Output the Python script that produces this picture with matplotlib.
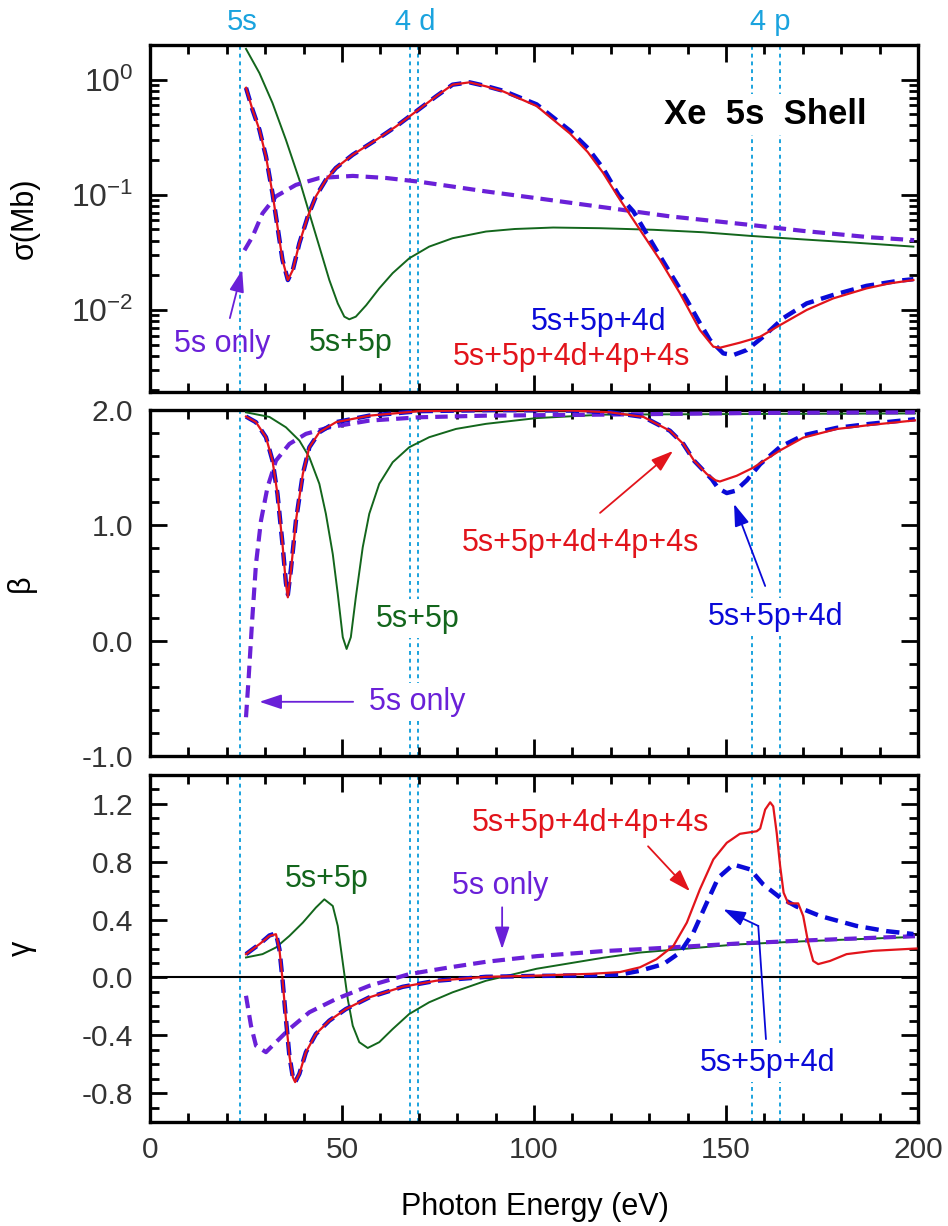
import matplotlib
matplotlib.use('Agg')
import matplotlib.pyplot as plt
from matplotlib.ticker import MultipleLocator, LogLocator, FuncFormatter, NullFormatter
import numpy as np

plt.rcParams['font.family'] = ['Liberation Sans', 'DejaVu Sans']
plt.rcParams['mathtext.fontset'] = 'custom'
plt.rcParams['mathtext.rm'] = 'Liberation Sans'
plt.rcParams['mathtext.it'] = 'Liberation Sans:italic'
plt.rcParams['mathtext.bf'] = 'Liberation Sans:bold'
plt.rcParams['axes.unicode_minus'] = False

# ---------------- data ----------------
# edges (eV)
edges = [23.4, 67.7, 69.8, 156.7, 164.1]
edge_labels = ['5s', '4 d', '4 p']
edge_label_x = [24.0, 69.0, 161.5]

# sigma (Mb)
sig_red_E = [25.0, 26.7, 28.5, 30.2, 31.9, 33.2, 34.5, 35.9, 37.2, 38.9, 41.1, 43.2, 45.8, 48.4, 52.8,
             58.9, 64.1, 69.3, 74.5, 78.8, 83.2, 87.5, 92.0, 100.7, 109.4, 114.0, 118.0, 122.4, 127.6, 132.8,
             138.0, 143.2, 146.7, 148.4, 153.6, 158.9, 164.1, 171.0, 177.9, 186.6, 192.5, 198.8]
sig_red = [0.85, 0.548, 0.367, 0.215, 0.103, 0.053, 0.0272, 0.0182, 0.0223, 0.038, 0.065, 0.097, 0.135,
           0.171, 0.223, 0.30, 0.393, 0.53, 0.716, 0.905, 0.948, 0.875, 0.79, 0.59, 0.34, 0.235, 0.155, 0.0905,
           0.0497, 0.0272, 0.014, 0.0067, 0.0048, 0.0047, 0.0052, 0.00586, 0.0074, 0.010, 0.0126, 0.0154,
           0.0170, 0.0182]
sig_blue_E = [25.0, 26.7, 28.5, 30.2, 31.9, 33.2, 34.5, 35.9, 37.2, 38.9, 41.1, 43.2, 45.8, 48.4, 52.8,
              58.9, 64.1, 69.3, 74.5, 78.8, 83.2, 87.5, 92.0, 100.7, 109.4, 114.0, 118.0, 122.0, 125.9, 131.9,
              135.8, 139.8, 143.2, 145.8, 149.3, 151.9, 155.4, 159.7, 164.9, 171.0, 177.9, 186.6, 195.3, 198.8]
sig_blue = [0.85, 0.548, 0.367, 0.215, 0.103, 0.053, 0.0272, 0.0182, 0.0223, 0.038, 0.065, 0.097, 0.135,
            0.171, 0.223, 0.30, 0.393, 0.53, 0.716, 0.905, 0.948, 0.88, 0.80, 0.61, 0.36, 0.255, 0.17, 0.10,
            0.0716, 0.033, 0.0201, 0.0122, 0.0077, 0.0055, 0.0042, 0.00406, 0.00449, 0.00586, 0.0085, 0.0114,
            0.0135, 0.0162, 0.0180, 0.0185]
sig_green_E = [25.0, 28.5, 31.9, 35.4, 38.9, 41.5, 44.1, 46.7, 48.9, 50.6, 51.9, 53.6, 56.3, 59.7, 63.2,
               67.5, 72.7, 78.8, 87.5, 95.0, 105.0, 117.2, 131.1, 144.1, 156.3, 170.1, 183.2, 198.8]
sig_green = [1.85, 1.14, 0.627, 0.30, 0.135, 0.069, 0.0355, 0.0182, 0.0114, 0.00875, 0.0083, 0.00875,
             0.011, 0.0154, 0.0209, 0.0281, 0.0355, 0.042, 0.048, 0.0505, 0.052, 0.0513, 0.0497, 0.0473,
             0.044, 0.041, 0.0385, 0.0355]
sig_purple_E = [24.6, 26.7, 29.3, 32.8, 38.0, 44.1, 52.8, 61.5, 70.1, 78.8, 87.5, 100.7, 119.8, 135.4,
                156.3, 170.1, 187.5, 199.0]
sig_purple = [0.033, 0.0434, 0.069, 0.097, 0.122, 0.14, 0.146, 0.14, 0.13, 0.118, 0.107, 0.0935, 0.0766,
              0.065, 0.0548, 0.0486, 0.0428, 0.0404]

# beta
beta_red_E = [25.0, 27.6, 30.2, 31.9, 33.2, 34.5, 35.4, 35.9, 36.7, 38.0, 39.8, 41.5, 44.1, 48.4, 57.1,
              70.1, 90.0, 110.0, 119.8, 128.5, 135.4, 138.9, 141.7, 145.0, 147.3, 148.4, 152.8, 157.1,
              164.1, 170.1, 178.8, 187.5, 199.2]
beta_red = [1.943, 1.894, 1.764, 1.561, 1.272, 0.839, 0.492, 0.376, 0.607, 1.04, 1.446, 1.677, 1.807,
            1.894, 1.951, 1.99, 2.0, 1.995, 1.98, 1.94, 1.82, 1.705, 1.56, 1.445, 1.39, 1.38, 1.43, 1.50,
            1.65, 1.76, 1.835, 1.87, 1.91]
beta_blue_E = [25.0, 27.6, 30.2, 31.9, 33.2, 34.5, 35.4, 35.9, 36.7, 38.0, 39.8, 41.5, 44.1, 48.4, 57.1,
               70.1, 90.0, 110.0, 119.8, 128.5, 135.4, 138.9, 141.7, 144.0, 146.3, 148.0, 150.2, 152.5,
               155.4, 158.9, 164.1, 170.1, 178.8, 187.5, 199.2]
beta_blue = [1.943, 1.894, 1.764, 1.561, 1.272, 0.839, 0.50, 0.40, 0.62, 1.04, 1.446, 1.677, 1.807,
             1.894, 1.951, 1.99, 2.0, 1.995, 1.98, 1.94, 1.82, 1.705, 1.56, 1.48, 1.40, 1.32, 1.28, 1.30,
             1.39, 1.53, 1.68, 1.78, 1.845, 1.88, 1.92]
beta_green_E = [25.0, 31.1, 35.4, 38.9, 41.5, 44.1, 45.8, 47.6, 48.9, 50.2, 51.2, 52.3, 53.6, 55.4, 57.1,
                59.7, 63.2, 67.5, 72.7, 79.7, 87.5, 100.7, 118.0, 152.8, 199.2]
beta_green = [1.98, 1.94, 1.85, 1.735, 1.59, 1.36, 1.10, 0.75, 0.405, 0.03, -0.072, 0.03, 0.376, 0.81,
              1.10, 1.36, 1.547, 1.677, 1.764, 1.836, 1.88, 1.93, 1.96, 1.965, 1.97]
beta_purple_E = [25.0, 25.7, 26.6, 27.6, 28.9, 30.6, 32.8, 36.3, 40.6, 46.7, 57.1, 70.1, 87.5, 118.0,
                 160.0, 199.2]
beta_purple = [-0.664, -0.317, 0.174, 0.665, 1.04, 1.33, 1.561, 1.706, 1.793, 1.85, 1.908, 1.937, 1.951,
               1.96, 1.975, 1.98]

# gamma
gam_red_E = [25.0, 28.5, 31.1, 32.8, 33.7, 34.5, 35.4, 36.3, 37.2, 37.8, 38.9, 40.6, 43.2, 46.7, 51.0,
             57.1, 65.8, 74.5, 87.5, 100.0, 115.0, 122.4, 127.6, 131.9, 136.3, 139.8, 143.2, 146.7, 150.2,
             153.6, 158.0, 158.9, 160.2, 161.5, 162.3, 163.2, 164.1, 165.0, 166.2, 168.8, 170.1, 171.4,
             172.7, 174.0, 177.1, 181.4, 188.4, 199.6]
gam_red = [0.161, 0.23, 0.287, 0.299, 0.195, -0.012, -0.288, -0.541, -0.69, -0.724, -0.667, -0.517,
           -0.391, -0.299, -0.219, -0.138, -0.065, -0.023, 0.004, 0.012, 0.025, 0.037, 0.07, 0.126, 0.218,
           0.379, 0.609, 0.816, 0.931, 0.993, 1.011, 1.03, 1.161, 1.211, 1.183, 1.0, 0.77, 0.586, 0.512,
           0.512, 0.425, 0.241, 0.114, 0.092, 0.114, 0.161, 0.184, 0.2]
gam_blue_E = [25.0, 28.5, 31.1, 32.8, 33.7, 34.5, 35.4, 36.3, 37.2, 37.8, 38.9, 40.6, 43.2, 46.7, 51.0,
              57.1, 65.8, 74.5, 87.5, 100.0, 115.0, 122.4, 127.6, 133.7, 138.0, 141.5, 145.0, 148.0,
              151.9, 156.3, 159.7, 164.1, 168.4, 174.5, 184.0, 191.8, 198.8]
gam_blue = [0.161, 0.23, 0.29, 0.305, 0.195, -0.012, -0.288, -0.541, -0.69, -0.724, -0.667, -0.517,
            -0.391, -0.299, -0.219, -0.138, -0.065, -0.023, 0.004, 0.01, 0.015, 0.02, 0.046, 0.092, 0.172,
            0.31, 0.517, 0.69, 0.781, 0.747, 0.643, 0.552, 0.49, 0.425, 0.356, 0.32, 0.30]
gam_green_E = [25.0, 29.3, 32.8, 36.3, 39.8, 43.2, 45.4, 47.6, 48.9, 50.2, 51.5, 52.8, 54.5, 56.7, 59.7,
               63.2, 67.5, 72.7, 78.8, 87.5, 92.0, 100.7, 118.0, 127.6, 152.8, 170.1, 198.8]
gam_green = [0.138, 0.161, 0.207, 0.287, 0.379, 0.483, 0.54, 0.494, 0.356, 0.103, -0.15, -0.334, -0.448,
             -0.488, -0.448, -0.357, -0.253, -0.172, -0.103, -0.023, 0.005, 0.06, 0.136, 0.172, 0.228,
             0.25, 0.28]
gam_purple_E = [25.0, 26.3, 27.6, 30.2, 32.8, 36.3, 41.5, 48.4, 57.1, 67.5, 77.9, 87.5, 100.7, 118.0,
                127.6, 152.8, 170.1, 199.2]
gam_purple = [-0.127, -0.334, -0.472, -0.517, -0.448, -0.357, -0.241, -0.15, -0.058, 0.023, 0.069, 0.108,
              0.147, 0.182, 0.195, 0.234, 0.255, 0.285]

# ---------------- styles ----------------
RED = '#E2141B'
BLUE = '#0A0AD8'
GREEN = '#13661C'
PURPLE = '#6A20D8'
LB = '#1AA3DE'
TICKC = '#333333'

W, H = 948, 1226
fig = plt.figure(figsize=(W / 100, H / 100), dpi=100)


def axrect(l, t, r, b):
    return [l / W, 1 - b / H, (r - l) / W, (b - t) / H]


ax1 = fig.add_axes(axrect(150, 45, 918, 392))
ax2 = fig.add_axes(axrect(150, 410, 918, 756))
ax3 = fig.add_axes(axrect(150, 775, 918, 1122))

for ax in (ax1, ax2, ax3):
    ax.set_xlim(0, 200)
    for s in ax.spines.values():
        s.set_linewidth(2.4)
    ax.tick_params(which='both', direction='in', top=True, right=True, width=2.0,
                   colors='black', labelcolor=TICKC, labelsize=21.5)
    ax.tick_params(axis='y', pad=12)
    ax.tick_params(axis='x', pad=10)
    ax.tick_params(which='major', length=12)
    ax.tick_params(which='minor', length=6.5)
    ax.xaxis.set_major_locator(MultipleLocator(50))
    ax.xaxis.set_minor_locator(MultipleLocator(10))
    for e in edges:
        ax.axvline(e, color=LB, lw=1.4, ls=(0, (2, 2)), zorder=1)

ax1.tick_params(labelbottom=False)
ax2.tick_params(labelbottom=False)
ax3.xaxis.set_major_formatter(FuncFormatter(lambda v, p: '%d' % v))

dash = (0, (3, 1.7))

# ---- top: sigma ----
ax1.set_yscale('log')
ax1.set_ylim(1.94e-3, 2.0)
ax1.yaxis.set_major_locator(LogLocator(base=10, numticks=10))
ax1.yaxis.set_minor_locator(LogLocator(base=10, subs=np.arange(2, 10), numticks=10))
ax1.yaxis.set_minor_formatter(NullFormatter())
ax1.yaxis.set_major_formatter(FuncFormatter(lambda v, p: r'$\mathregular{10^{%d}}$' % int(round(np.log10(v)))))
ax1.tick_params(axis='y', which='major', labelsize=23)

ax1.plot(sig_green_E, sig_green, color=GREEN, lw=1.4, zorder=4)
ax1.plot(sig_purple_E, sig_purple, color=PURPLE, lw=3.0, ls=dash, zorder=5)
ax1.plot(sig_blue_E, sig_blue, color=BLUE, lw=3.2, ls=dash, zorder=6)
ax1.plot(sig_red_E, sig_red, color=RED, lw=1.6, zorder=7)

for lab, xx in zip(edge_labels, edge_label_x):
    ax1.text(xx, 1.042, lab, transform=ax1.get_xaxis_transform(), ha='center', va='baseline',
             color=LB, fontsize=21, clip_on=False)

wb = dict(facecolor='white', edgecolor='none', pad=3)
ax1.text(160.2, 0.414, 'Xe  5s  Shell', ha='center', va='baseline', fontsize=25, fontweight='bold',
         color='black', bbox=wb, zorder=3)
ax1.text(18.75, 0.00434, '5s only', ha='center', va='baseline', fontsize=22, color=PURPLE, zorder=3)
ax1.text(52.3, 0.0044, '5s+5p', ha='center', va='baseline', fontsize=22, color=GREEN, zorder=3)
ax1.text(116.7, 0.0067, '5s+5p+4d', ha='center', va='baseline', fontsize=22, color=BLUE, zorder=3)
ax1.text(109.8, 0.00332, '5s+5p+4d+4p+4s', ha='center', va='baseline', fontsize=22, color=RED, zorder=3)

astyle = '-|>,head_length=0.9,head_width=0.3'


def arrow(ax, tail, head, color):
    ax.annotate('', xy=head, xytext=tail, zorder=8,
                arrowprops=dict(arrowstyle=astyle, color=color, lw=1.3, shrinkA=0, shrinkB=0,
                                mutation_scale=15))


arrow(ax1, (20.8, 0.0085), (24.0, 0.0223), PURPLE)

# ---- middle: beta ----
ax2.set_ylim(-1.0, 2.0)
ax2.yaxis.set_major_locator(MultipleLocator(1.0))
ax2.yaxis.set_minor_locator(MultipleLocator(0.2))
ax2.yaxis.set_major_formatter(FuncFormatter(lambda v, p: '%.1f' % v))

ax2.plot(beta_green_E, beta_green, color=GREEN, lw=1.4, zorder=4)
ax2.plot(beta_purple_E, beta_purple, color=PURPLE, lw=3.0, ls=dash, zorder=5)
ax2.plot(beta_blue_E, beta_blue, color=BLUE, lw=3.2, ls=dash, zorder=6)
ax2.plot(beta_red_E, beta_red, color=RED, lw=1.6, zorder=7)

ax2.text(112.0, 0.78, '5s+5p+4d+4p+4s', ha='center', va='baseline', fontsize=22, color=RED,
         bbox=wb, zorder=3)
ax2.text(163.0, 0.136, '5s+5p+4d', ha='center', va='baseline', fontsize=22, color=BLUE, bbox=wb, zorder=3)
ax2.text(69.8, 0.121, '5s+5p', ha='center', va='baseline', fontsize=22, color=GREEN, bbox=wb, zorder=3)
ax2.text(69.7, -0.60, '5s only', ha='center', va='baseline', fontsize=22, color=PURPLE, bbox=wb, zorder=3)
arrow(ax2, (117.2, 1.108), (136.2, 1.645), RED)
arrow(ax2, (160.2, 0.474), (152.1, 1.186), BLUE)
arrow(ax2, (52.9, -0.53), (28.5, -0.53), PURPLE)

# ---- bottom: gamma ----
ax3.set_ylim(-1.0, 1.4)
ax3.yaxis.set_major_locator(MultipleLocator(0.4))
ax3.yaxis.set_minor_locator(MultipleLocator(0.1))
ax3.yaxis.set_major_formatter(FuncFormatter(lambda v, p: '%.1f' % (0.0 if abs(v) < 1e-9 else v)))
ax3.axhline(0, color='black', lw=1.5, zorder=2)

ax3.plot(gam_green_E, gam_green, color=GREEN, lw=1.4, zorder=4)
ax3.plot(gam_purple_E, gam_purple, color=PURPLE, lw=3.0, ls=dash, zorder=5)
ax3.plot(gam_blue_E, gam_blue, color=BLUE, lw=3.2, ls=dash, zorder=6)
ax3.plot(gam_red_E, gam_red, color=RED, lw=1.6, zorder=7)

ax3.text(46.1, 0.625, '5s+5p', ha='center', va='baseline', fontsize=22, color=GREEN, zorder=3)
ax3.text(91.1, 0.575, '5s only', ha='center', va='baseline', fontsize=22, color=PURPLE, zorder=3)
ax3.text(114.6, 1.011, '5s+5p+4d+4p+4s', ha='center', va='baseline', fontsize=22, color=RED, zorder=3)
ax3.text(160.7, -0.644, '5s+5p+4d', ha='center', va='baseline', fontsize=22, color=BLUE, bbox=wb, zorder=3)
arrow(ax3, (91.7, 0.485), (91.7, 0.196), PURPLE)
arrow(ax3, (129.7, 0.907), (140.6, 0.596), RED)
ax3.plot([160.4, 158.4], [-0.425, 0.356], color=BLUE, lw=1.3, zorder=8)
arrow(ax3, (158.4, 0.356), (149.3, 0.471), BLUE)

# axis labels
fig.text(25 / W, 1 - 218 / H, 'σ(Mb)', rotation=90, ha='center', va='center', fontsize=22, color='black')
fig.text(21 / W, 1 - 583 / H, 'β', rotation=90, ha='center', va='center', fontsize=22, color='black')
fig.text(22 / W, 1 - 948 / H, 'γ', rotation=90, ha='center', va='center', fontsize=22, color='black')
fig.text(535 / W, 1 - 1215 / H, 'Photon Energy (eV)', ha='center', va='baseline', fontsize=22, color='black')

fig.savefig('out.png', dpi=100)
